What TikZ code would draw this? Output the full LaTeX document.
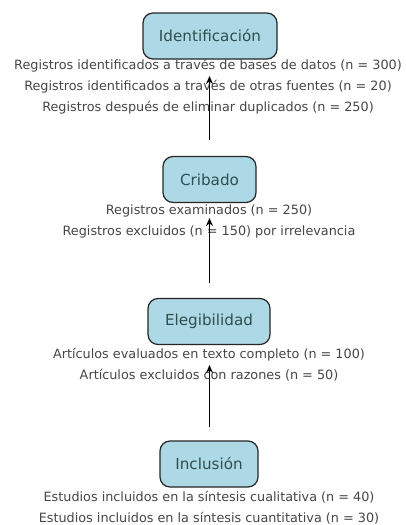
\documentclass[tikz,border=0pt]{standalone}
\usepackage{fontspec}
\setmainfont{DejaVu Sans}
\usetikzlibrary{arrows.meta}
\definecolor{boxfill}{RGB}{173,216,230}
\definecolor{boxtext}{RGB}{47,79,79}
\definecolor{linetext}{RGB}{70,70,70}
\begin{document}
\begin{tikzpicture}[x=1pt,y=-1pt,
  stage/.style={draw=black!85, line width=1.2pt, fill=boxfill, rounded corners=10pt,
    text=boxtext, font=\fontsize{15.2}{17}\selectfont, minimum height=46pt, inner sep=0pt},
  info/.style={text=linetext, font=\fontsize{12.8}{21}\selectfont, align=center, inner sep=0pt},
  flow/.style={-{Stealth[length=8pt,width=7pt]}, line width=1.8pt}]
\useasboundingbox (0,0) rectangle (405,525);
\node[stage, minimum width=134pt] (s1) at (210,36) {Identificación};
\node[info] (i1) at (208,87) {Registros identificados a través de bases de datos (n = 300)\\
Registros identificados a través de otras fuentes (n = 20)\\
Registros después de eliminar duplicados (n = 250)};
\node[stage, minimum width=93pt] (s2) at (209.5,179.5) {Cribado};
\node[info] (i2) at (209,221) {Registros examinados (n = 250)\\
Registros excluidos (n = 150) por irrelevancia};
\node[stage, minimum width=122pt] (s3) at (209,321.5) {Elegibilidad};
\node[info] (i3) at (209,365) {Artículos evaluados en texto completo (n = 100)\\
Artículos excluidos con razones (n = 50)};
\node[stage, minimum width=98pt] (s4) at (209,464) {Inclusión};
\node[info] (i4) at (209,507.5) {Estudios incluidos en la síntesis cualitativa (n = 40)\\
Estudios incluidos en la síntesis cuantitativa (n = 30)};
\coordinate (t1) at (209.5,140);
\coordinate (h1) at (209.5,76);
\coordinate (t2) at (209.5,283);
\coordinate (h2) at (209.5,218);
\coordinate (t3) at (209.5,427);
\coordinate (h3) at (209.5,365);
\draw[flow] (t1) -- (h1);
\draw[flow] (t2) -- (h2);
\draw[flow] (t3) -- (h3);
\end{tikzpicture}
\end{document}
